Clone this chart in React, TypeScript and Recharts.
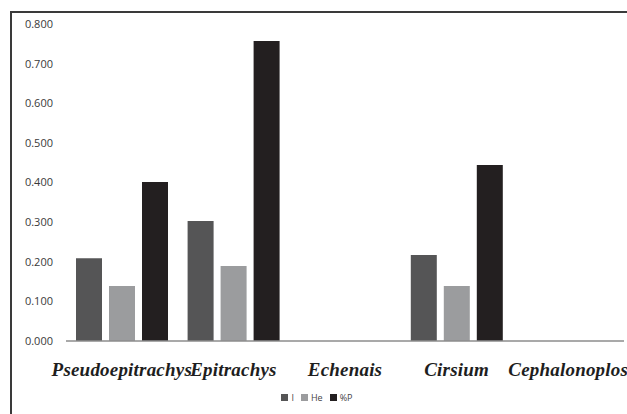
import React from "react";
import {
  BarChart,
  Bar,
  XAxis,
  YAxis,
  Legend,
} from "recharts";

const genera = ["Pseudoepitrachys", "Epitrachys", "Echenais", "Cirsium", "Cephalonoplos"];
const iValues = [0.209, 0.303, null, 0.217, null];
const heValues = [0.139, 0.189, null, 0.139, null];
const pValues = [0.401, 0.757, null, 0.444, null];
const yTicks = [0, 0.1, 0.2, 0.3, 0.4, 0.5, 0.6, 0.7, 0.8];

const series = [
  { key: "I", label: "I", color: "#555556" },
  { key: "He", label: "He", color: "#9b9c9e" },
  { key: "P", label: "%P", color: "#231f20" },
];

const data = genera.map((name, i) => ({
  name,
  I: iValues[i],
  He: heValues[i],
  P: pValues[i],
}));

const LegendContent = () => (
  <div
    style={{
      display: "flex",
      justifyContent: "center",
      alignItems: "center",
      height: 14,
      gap: 7,
      fontFamily: "'Open Sans', sans-serif",
      fontSize: 9,
      color: "#444",
    }}
  >
    {series.map((s) => (
      <span key={s.key} style={{ display: "flex", alignItems: "center", gap: 3 }}>
        <span style={{ width: 7, height: 7, background: s.color, display: "inline-block" }} />
        {s.label}
      </span>
    ))}
  </div>
);

const App: React.FC = () => {
  return (
    <div
      style={{
        position: "absolute",
        left: 0,
        top: 0,
        width: 627,
        height: 414,
        overflow: "hidden",
        background: "#fff",
      }}
    >
      <div
        style={{
          position: "absolute",
          left: 10,
          top: 11,
          width: 700,
          height: 500,
          borderLeft: "2px solid #3a3a3a",
          borderTop: "2px solid #3a3a3a",
        }}
      />
      <BarChart
        width={627}
        height={414}
        data={data}
        margin={{ top: 24, right: 3, bottom: 10, left: 10 }}
        barCategoryGap={10}
        barGap={7}
        style={{ position: "absolute", left: 0, top: 0 }}
      >
        <XAxis
          dataKey="name"
          axisLine={{ stroke: "#8c8c8c", strokeWidth: 1.5 }}
          tickLine={false}
          tickSize={0}
          tickMargin={22}
          height={49}
          interval={0}
          tick={{
            fontFamily: "'Liberation Serif', 'Times New Roman', serif",
            fontStyle: "italic",
            fontWeight: "bold",
            fontSize: 19,
            letterSpacing: 0.2,
            fill: "#1e1e1e",
          }}
        />
        <YAxis
          width={56}
          domain={[0, 0.8]}
          ticks={yTicks}
          axisLine={false}
          tickLine={false}
          tickSize={0}
          tickMargin={13}
          tickFormatter={(v: number) => v.toFixed(3)}
          tick={{ fontFamily: "'Open Sans', sans-serif", fontSize: 11, fill: "#3a3a3a" }}
        />
        <Legend verticalAlign="bottom" align="center" height={14} content={<LegendContent />} />
        {series.map((s) => (
          <Bar key={s.key} dataKey={s.key} name={s.label} fill={s.color} isAnimationActive={false} />
        ))}
      </BarChart>
    </div>
  );
};

export default App;
